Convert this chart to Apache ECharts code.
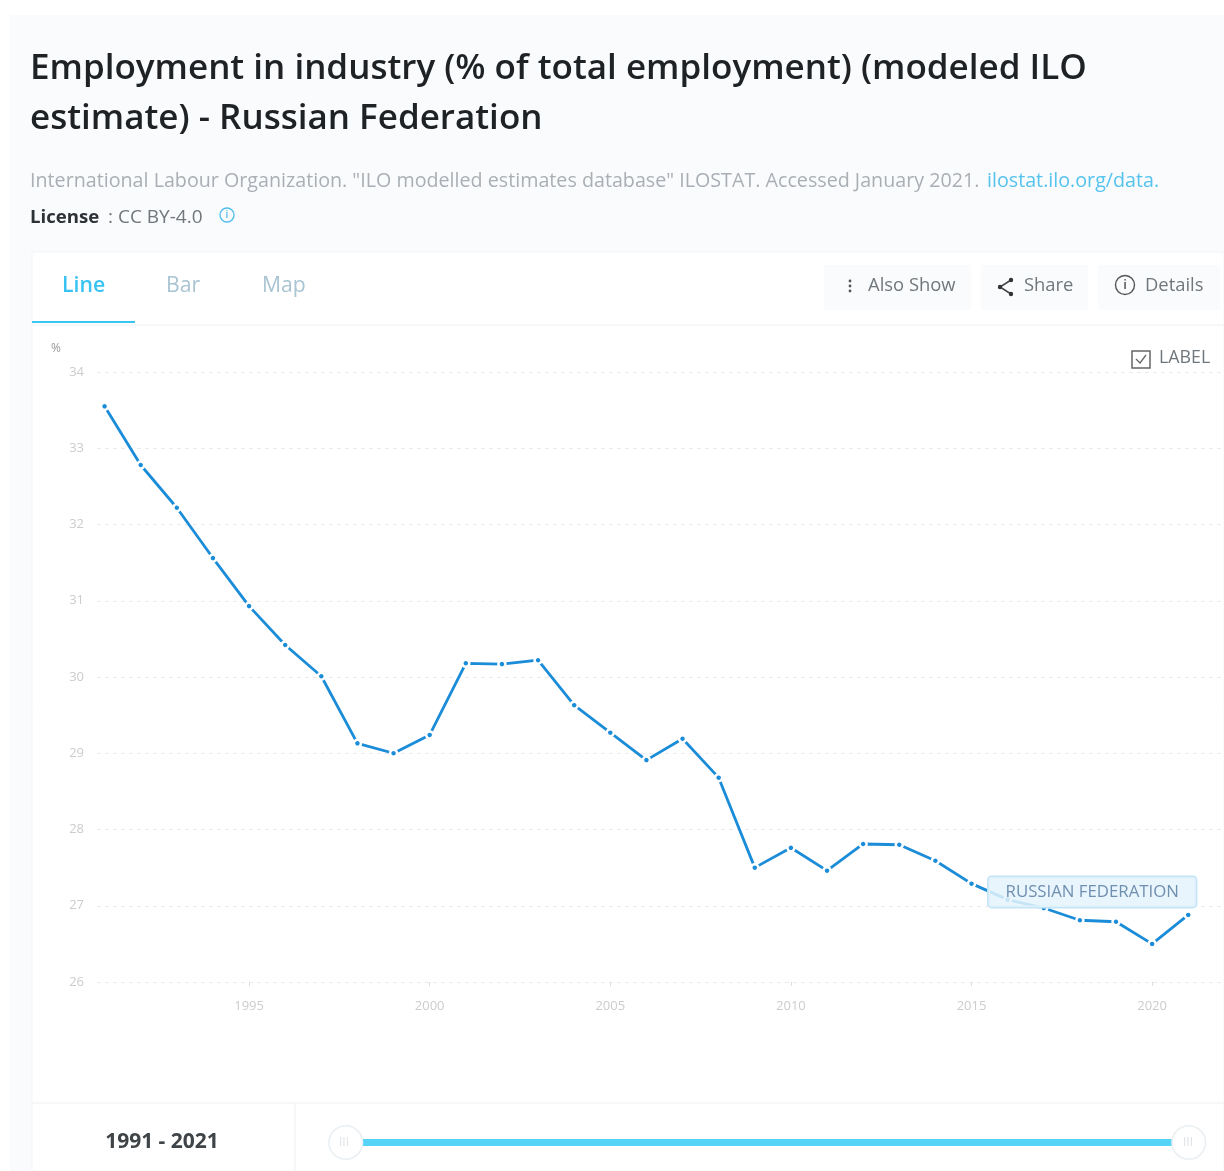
<!DOCTYPE html>
<html><head><meta charset="utf-8">
<style>html,body{margin:0;padding:0;background:#fff}#c{width:1224px;height:1171px}</style>
<script src="https://cdn.jsdelivr.net/npm/echarts@6/dist/echarts.min.js"></script>
</head><body><div id="c"></div>
<script>
const years=[1991,1992,1993,1994,1995,1996,1997,1998,1999,2000,2001,2002,2003,2004,2005,2006,2007,2008,2009,2010,2011,2012,2013,2014,2015,2016,2017,2018,2019,2020,2021];
const values=[33.55,32.78,32.22,31.56,30.93,30.42,30.01,29.13,29.0,29.24,30.18,30.17,30.22,29.63,29.27,28.91,29.19,28.68,27.5,27.76,27.46,27.81,27.8,27.59,27.29,27.08,26.97,26.81,26.79,26.5,26.88];
const xTicks=[1995,2000,2005,2010,2015,2020];
const seriesName='RUSSIAN FEDERATION';
const titleLines=['Employment in industry (% of total employment) (modeled ILO','estimate) - Russian Federation'];
const sourceText='International Labour Organization. "ILO modelled estimates database" ILOSTAT. Accessed January 2021.';
const linkText='ilostat.ilo.org/data.';
const font='"Open Sans"';
const t=(x,y,text,size,fill,weight,align)=>({type:'text',x,y,z:50,style:{text,fontFamily:font,fontSize:size,fill,fontWeight:weight||400,align:align||'left',verticalAlign:'middle'}});
const r=(x,y,w,h,fill,stroke,lw,rad)=>({type:'rect',z:stroke==='top'?50:-10,shape:{x,y,width:w,height:h,r:rad||0},style:{fill,stroke:stroke==='top'?null:stroke,lineWidth:lw||0}});
const l=(x1,y1,x2,y2,c,w)=>({type:'line',z:-5,shape:{x1,y1,x2,y2},style:{stroke:c,lineWidth:w||1}});
const graphics=[
 r(10,15,1214,1156,'#fafbfd'),
 r(32,252,1192,919,'#ffffff','#f3f5f8',1),
 t(30,69,titleLines[0],35,'#1f2225',600),
 t(30,119,titleLines[1],35,'#1f2225',600),
 t(30,181,sourceText,19.7,'#a9afb4'),
 t(987,181,linkText,19.7,'#55c3ee'),
 t(30,218,'License',18.6,'#2d3236',700),
 t(108,218,': CC BY-4.0',19,'#70767b'),
 {type:'circle',z:50,shape:{cx:227,cy:215,r:7},style:{fill:'none',stroke:'#4fbdec',lineWidth:1.3}},
 t(227,215,'i',10,'#4fbdec',600,'center'),
 t(62,286,'Line',21.2,'#39c3f3',600),
 t(166,286,'Bar',21.2,'#a9c4d2'),
 t(262,286,'Map',21.2,'#a9c4d2'),
 r(32,321,103,2,'#38c6f4','top'),
 l(32,325,1224,325,'#f2f4f6',1.5),
 r(824,265,147,45,'#fafbfc'),
 r(981,265,107,45,'#fafbfc'),
 r(1098,265,122,45,'#fafbfc'),
 {type:'circle',z:50,shape:{cx:850,cy:281,r:1.4},style:{fill:'#555'}},
 {type:'circle',z:50,shape:{cx:850,cy:286,r:1.4},style:{fill:'#555'}},
 {type:'circle',z:50,shape:{cx:850,cy:291,r:1.4},style:{fill:'#555'}},
 t(868,286,'Also Show',18.4,'#70777c'),
 {type:'polyline',z:50,shape:{points:[[1011,280],[1000,287],[1011,294]]},style:{fill:'none',stroke:'#444',lineWidth:1.5}},
 {type:'circle',z:50,shape:{cx:1011,cy:280,r:2.2},style:{fill:'#333'}},
 {type:'circle',z:50,shape:{cx:1000,cy:287,r:2.2},style:{fill:'#333'}},
 {type:'circle',z:50,shape:{cx:1011,cy:294,r:2.2},style:{fill:'#333'}},
 t(1024,286,'Share',18.4,'#70777c'),
 {type:'circle',z:50,shape:{cx:1125,cy:285,r:9.5},style:{fill:'none',stroke:'#555',lineWidth:1.4}},
 t(1125,285,'i',13,'#555',600,'center'),
 t(1145,286,'Details',18.4,'#70777c'),
 {type:'rect',z:50,shape:{x:1132,y:351,width:18,height:17},style:{fill:'#fff',stroke:'#666',lineWidth:1.5}},
 {type:'polyline',z:50,shape:{points:[[1136,359],[1140,363],[1146,355]]},style:{fill:'none',stroke:'#666',lineWidth:1.3}},
 t(1159,358,'LABEL',17.8,'#70777c'),
 l(32,1103,1224,1103,'#f2f4f6',1.5),
 l(295,1103,295,1171,'#f2f4f6',1.5),
 t(162,1142,'1991 - 2021',21,'#3f4448',700,'center'),
 t(344,1143,'III',12,'#dfe3e6',400,'center'),
 t(1188,1143,'III',12,'#dfe3e6',400,'center')
];
const chart=echarts.init(document.getElementById('c'),null,{renderer:'canvas'});
chart.setOption({
 animation:false,
 backgroundColor:'#fff',
 graphic:graphics,
 grid:{left:97,right:0,top:372,bottom:189,containLabel:false},
 xAxis:{type:'value',min:1990.79,max:2021.99,splitLine:{show:false},axisLine:{show:false},
  axisTick:{show:true,length:4,lineStyle:{color:'#dddddd'},customValues:xTicks},
  axisLabel:{margin:18,color:'#cccccc',fontSize:13,fontFamily:font,customValues:xTicks,formatter:v=>String(v)}},
 yAxis:{type:'value',min:26,max:34,interval:1,name:'%',nameLocation:'end',nameGap:17,
  nameTextStyle:{color:'#999999',fontSize:12,fontFamily:font,align:'right',padding:[0,36,0,0]},
  axisLine:{show:false},axisTick:{show:false},
  axisLabel:{margin:13,color:'#cccccc',fontSize:13,fontFamily:font},
  splitLine:{show:true,lineStyle:{color:'#eaeaea',type:[4,4],width:1}}},
 dataZoom:[{type:'slider',xAxisIndex:0,filterMode:'none',start:0,end:100,left:343,right:36,bottom:25,height:7,
  showDetail:false,showDataShadow:false,brushSelect:false,moveHandleSize:0,borderColor:'transparent',backgroundColor:'transparent',
  fillerColor:'#55d4f8',handleIcon:'circle',handleSize:'480%',handleStyle:{color:'#fff',borderColor:'#eaeff3',borderWidth:1.5}}],
 series:[{type:'line',name:seriesName,data:years.map((y,i)=>{
   const p={value:[y,values[i]]};
   if(i===years.length-1)p.label={show:true,position:'inside',offset:[-96,-23],formatter:seriesName,
     color:'#6f8fb0',fontFamily:font,fontSize:16.8,backgroundColor:'rgba(228,243,251,0.85)',borderColor:'#c3e5f7',borderWidth:1.5,borderRadius:3,padding:[7,17,6,17]};
   return p;}),
  showSymbol:true,symbol:'circle',symbolSize:7,
  lineStyle:{color:'#1a8cd8',width:2.8},itemStyle:{color:'#1a8cd8',borderColor:'#fff',borderWidth:2.5}}]
});
</script></body></html>
